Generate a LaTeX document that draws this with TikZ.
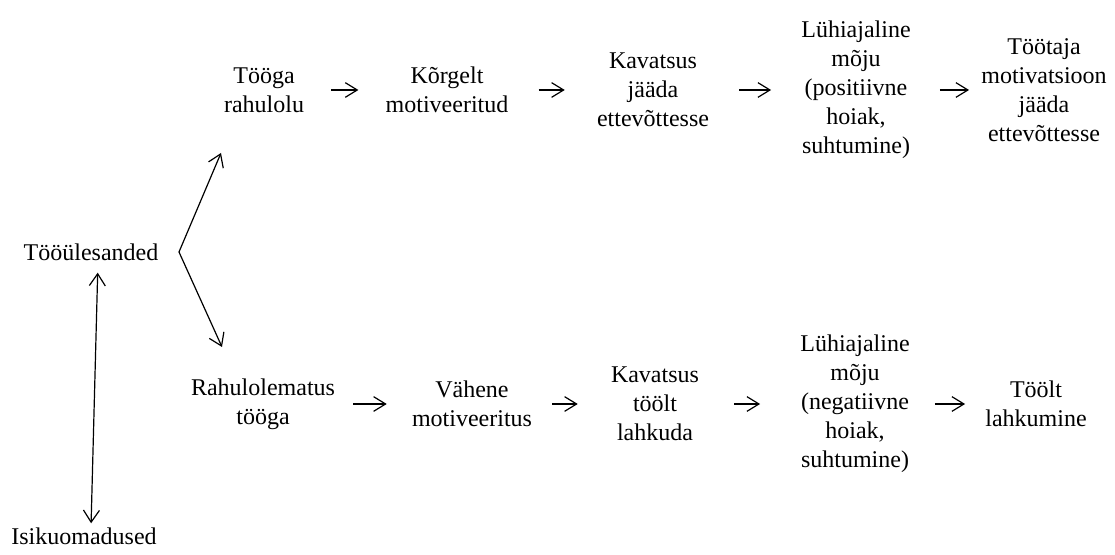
\documentclass[tikz,border=0pt]{standalone}
\usepackage{fontspec}
\setmainfont{Liberation Serif}
\usetikzlibrary{arrows.meta}
\newdimen\pxu
\pxu=0.75pt
\begin{document}
\begin{tikzpicture}[x=0.75pt,y=-0.75pt,
  lbl/.style={inner sep=0pt,align=center,font=\fontsize{18pt}{21.8pt}\selectfont},
  flow/.style={-{Straight Barb[length=9pt,width=11pt]},line width=0.9pt},
  fork/.style={-{Straight Barb[length=9pt,width=12pt]},line width=0.9pt},
  bi/.style={{Straight Barb[length=9pt,width=12pt]}-{Straight Barb[length=9pt,width=12pt]},line width=0.9pt}]
\useasboundingbox (0,0) rectangle (1115,555);
% left nodes
\node[lbl] (tu) at (91,252) {Tööülesanded};
\node[lbl] (iu) at (84,536) {Isikuomadused};
% top row
\node[lbl] (t1) at (264,90) {Tööga\\rahulolu};
\node[lbl] (t2) at (447,90) {Kõrgelt\\motiveeritud};
\node[lbl] (t3) at (653,90) {Kavatsus\\jääda\\ettevõttesse};
\node[lbl] (t4) at (856,90) {Lühiajaline\\mõju\\(positiivne\\hoiak,\\suhtumine)};
\node[lbl] (t5) at (1044,90) {Töötaja\\motivatsioon\\jääda\\ettevõttesse};
% bottom row
\node[lbl] (b1) at (263,404) {Rahulolematus\\tööga};
\node[lbl] (b2) at (472,404) {Vähene\\motiveeritus};
\node[lbl] (b3) at (655,404) {Kavatsus\\töölt\\lahkuda};
\node[lbl] (b4) at (855,404) {Lühiajaline\\mõju\\(negatiivne\\hoiak,\\suhtumine)};
\node[lbl] (b5) at (1036,404) {Töölt\\lahkumine};
% fork coordinates
\coordinate (fv) at (179,252);
\coordinate (ft) at (221,153);
\coordinate (fb) at (222,347);
% connectors
\draw[fork] (fv) -- (ft);
\draw[fork] (fv) -- (fb);
\draw[bi,shorten <=12\pxu,shorten >=4\pxu] ([xshift=7\pxu]tu.south) -- ([xshift=7\pxu]iu.north);
\draw[flow,shorten <=27\pxu,shorten >=27\pxu] (t1) -- (t2);
\draw[flow,shorten <=30\pxu,shorten >=32\pxu] (t2) -- (t3);
\draw[flow,shorten <=30\pxu,shorten >=30\pxu] (t3) -- (t4);
\draw[flow,shorten <=29\pxu,shorten >=12\pxu] (t4) -- (t5);
\draw[flow,shorten <=18\pxu,shorten >=25\pxu] (b1) -- (b2);
\draw[flow,shorten <=20\pxu,shorten >=33\pxu] (b2) -- (b3);
\draw[flow,shorten <=35\pxu,shorten >=40\pxu] (b3) -- (b4);
\draw[flow,shorten <=25\pxu,shorten >=20\pxu] (b4) -- (b5);
\end{tikzpicture}
\end{document}
